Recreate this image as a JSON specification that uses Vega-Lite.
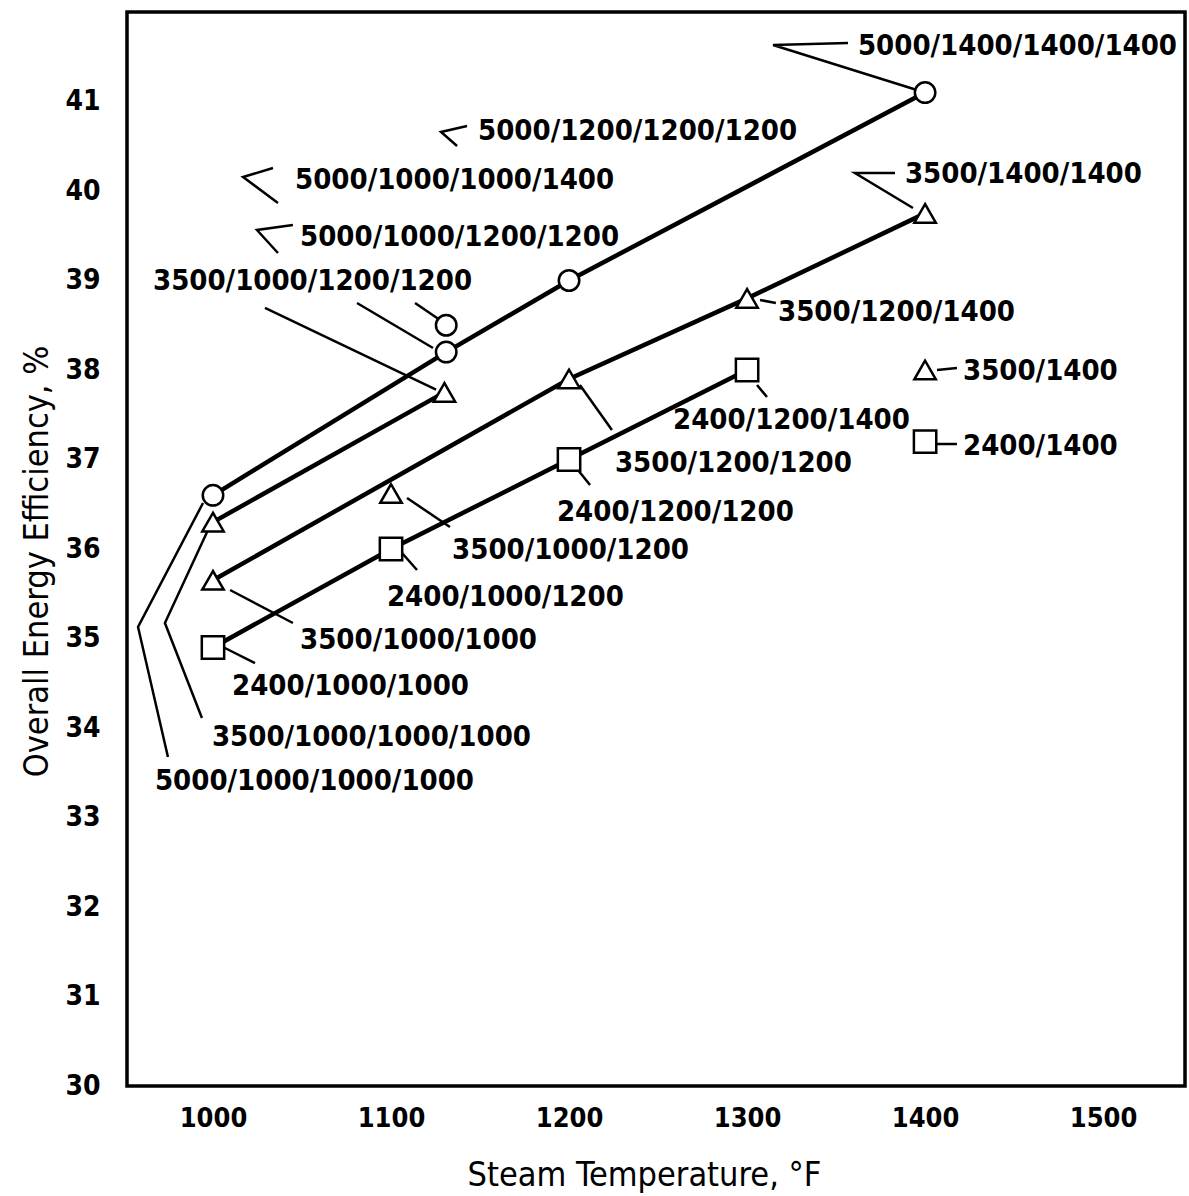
{
  "$schema": "https://vega.github.io/schema/vega-lite/v6.json",
  "autosize": {"type": "none"},
  "padding": {"left": 127, "top": 12, "right": 4, "bottom": 110},
  "width": 1058,
  "height": 1074,
  "background": "white",
  "config": {
    "view": {"stroke": "black", "strokeWidth": 3.5},
    "axis": {"domain": false, "ticks": false, "grid": false, "labelColor": "black", "titleColor": "black"}
  },
  "datasets": {
    "lines": [
      {"s": "c5000", "o": 1, "x": 1000, "y": 36.6},
      {"s": "c5000", "o": 2, "x": 1131, "y": 38.2},
      {"s": "c5000", "o": 3, "x": 1200, "y": 39.0},
      {"s": "c5000", "o": 4, "x": 1400, "y": 41.1},
      {"s": "t3500b", "o": 1, "x": 1000, "y": 36.3},
      {"s": "t3500b", "o": 2, "x": 1130, "y": 37.75},
      {"s": "t3500", "o": 1, "x": 1000, "y": 35.65},
      {"s": "t3500", "o": 2, "x": 1200, "y": 37.9},
      {"s": "t3500", "o": 3, "x": 1300, "y": 38.8},
      {"s": "t3500", "o": 4, "x": 1400, "y": 39.75},
      {"s": "s2400", "o": 1, "x": 1000, "y": 34.9},
      {"s": "s2400", "o": 2, "x": 1100, "y": 36.0},
      {"s": "s2400", "o": 3, "x": 1200, "y": 37.0},
      {"s": "s2400", "o": 4, "x": 1300, "y": 38.0}
    ],
    "leaders": [
      {"id": "A", "o": 1, "x": 1356.7, "y": 41.654},
      {"id": "A", "o": 2, "x": 1314.6, "y": 41.631},
      {"id": "A", "o": 3, "x": 1395.4, "y": 41.128},
      {"id": "B", "o": 1, "x": 1383.1, "y": 40.201},
      {"id": "B", "o": 2, "x": 1360.6, "y": 40.201},
      {"id": "B", "o": 3, "x": 1393.2, "y": 39.81},
      {"id": "C", "o": 1, "x": 1142.7, "y": 40.726},
      {"id": "C", "o": 2, "x": 1128.1, "y": 40.659},
      {"id": "C", "o": 3, "x": 1137.1, "y": 40.503},
      {"id": "D", "o": 1, "x": 1033.7, "y": 40.257},
      {"id": "D", "o": 2, "x": 1016.9, "y": 40.156},
      {"id": "D", "o": 3, "x": 1036.5, "y": 39.866},
      {"id": "E", "o": 1, "x": 1044.9, "y": 39.62},
      {"id": "E", "o": 2, "x": 1024.7, "y": 39.564},
      {"id": "E", "o": 3, "x": 1036.5, "y": 39.307},
      {"id": "F1", "o": 1, "x": 1029.2, "y": 38.693},
      {"id": "F1", "o": 2, "x": 1125.3, "y": 37.78},
      {"id": "F2", "o": 1, "x": 1080.9, "y": 38.749},
      {"id": "F2", "o": 2, "x": 1123.6, "y": 38.246},
      {"id": "F3", "o": 1, "x": 1113.5, "y": 38.749},
      {"id": "F3", "o": 2, "x": 1127.5, "y": 38.559},
      {"id": "G", "o": 1, "x": 1307.3, "y": 38.782},
      {"id": "G", "o": 2, "x": 1316.2, "y": 38.749},
      {"id": "H", "o": 1, "x": 1406.7, "y": 38.0},
      {"id": "H", "o": 2, "x": 1417.9, "y": 38.022},
      {"id": "I", "o": 1, "x": 1406.7, "y": 37.173},
      {"id": "I", "o": 2, "x": 1417.9, "y": 37.173},
      {"id": "J", "o": 1, "x": 1305.6, "y": 37.832},
      {"id": "J", "o": 2, "x": 1311.2, "y": 37.698},
      {"id": "K", "o": 1, "x": 1206.1, "y": 37.832},
      {"id": "K", "o": 2, "x": 1224.1, "y": 37.33},
      {"id": "L", "o": 1, "x": 1205.0, "y": 36.883},
      {"id": "L", "o": 2, "x": 1211.8, "y": 36.715},
      {"id": "M", "o": 1, "x": 1109.0, "y": 36.57},
      {"id": "M", "o": 2, "x": 1133.1, "y": 36.246},
      {"id": "N", "o": 1, "x": 1106.2, "y": 35.955},
      {"id": "N", "o": 2, "x": 1114.6, "y": 35.765},
      {"id": "O", "o": 1, "x": 1009.6, "y": 35.542},
      {"id": "O", "o": 2, "x": 1044.9, "y": 35.173},
      {"id": "P", "o": 1, "x": 1005.6, "y": 34.905},
      {"id": "P", "o": 2, "x": 1023.6, "y": 34.726},
      {"id": "Q", "o": 1, "x": 997.2, "y": 36.212},
      {"id": "Q", "o": 2, "x": 973.0, "y": 35.173},
      {"id": "Q", "o": 3, "x": 993.8, "y": 34.112},
      {"id": "R", "o": 1, "x": 994.4, "y": 36.514},
      {"id": "R", "o": 2, "x": 957.9, "y": 35.128},
      {"id": "R", "o": 3, "x": 974.7, "y": 33.676}
    ],
    "points": [
      {"shape": "circle", "x": 1000, "y": 36.6},
      {"shape": "circle", "x": 1131, "y": 38.2},
      {"shape": "circle", "x": 1131, "y": 38.5},
      {"shape": "circle", "x": 1200, "y": 39.0},
      {"shape": "circle", "x": 1400, "y": 41.1},
      {"shape": "triangle-up", "x": 1000, "y": 36.3},
      {"shape": "triangle-up", "x": 1130, "y": 37.75},
      {"shape": "triangle-up", "x": 1000, "y": 35.65},
      {"shape": "triangle-up", "x": 1100, "y": 36.62},
      {"shape": "triangle-up", "x": 1200, "y": 37.9},
      {"shape": "triangle-up", "x": 1300, "y": 38.8},
      {"shape": "triangle-up", "x": 1400, "y": 39.75},
      {"shape": "triangle-up", "x": 1400, "y": 38.0},
      {"shape": "square", "x": 1000, "y": 34.9},
      {"shape": "square", "x": 1100, "y": 36.0},
      {"shape": "square", "x": 1200, "y": 37.0},
      {"shape": "square", "x": 1300, "y": 38.0},
      {"shape": "square", "x": 1400, "y": 37.2}
    ],
    "labels": [
      {"t": "5000/1400/1400/1400", "x": 1362.3, "y": 41.62},
      {"t": "5000/1200/1200/1200", "x": 1148.9, "y": 40.67},
      {"t": "5000/1000/1000/1400", "x": 1046.1, "y": 40.12},
      {"t": "3500/1400/1400", "x": 1388.7, "y": 40.19},
      {"t": "5000/1000/1200/1200", "x": 1048.9, "y": 39.49},
      {"t": "3500/1000/1200/1200", "x": 966.3, "y": 38.99},
      {"t": "3500/1200/1400", "x": 1317.4, "y": 38.65},
      {"t": "3500/1400", "x": 1421.3, "y": 37.99},
      {"t": "2400/1400", "x": 1421.3, "y": 37.15},
      {"t": "2400/1200/1400", "x": 1258.4, "y": 37.44},
      {"t": "3500/1200/1200", "x": 1225.8, "y": 36.96},
      {"t": "2400/1200/1200", "x": 1193.2, "y": 36.41},
      {"t": "3500/1000/1200", "x": 1134.3, "y": 35.99},
      {"t": "2400/1000/1200", "x": 1097.7, "y": 35.46},
      {"t": "3500/1000/1000", "x": 1048.9, "y": 34.98},
      {"t": "2400/1000/1000", "x": 1010.7, "y": 34.47},
      {"t": "3500/1000/1000/1000", "x": 999.4, "y": 33.9},
      {"t": "5000/1000/1000/1000", "x": 967.4, "y": 33.41}
    ]
  },
  "encoding": {
    "x": {
      "field": "x", "type": "quantitative",
      "scale": {"domain": [951.7, 1546], "nice": false, "zero": false},
      "axis": {
        "values": [1000, 1100, 1200, 1300, 1400, 1500],
        "format": "d",
        "title": "Steam Temperature,  °F",
        "labelFont": "DejaVu Sans Condensed", "labelFontSize": 27, "labelFontWeight": "bold",
        "labelPadding": 19, "labelFlush": false,
        "titleFont": "DejaVu Sans Condensed", "titleFontSize": 34, "titleFontWeight": "normal",
        "titleX": 517, "titleY": 99, "titleAlign": "center", "titleBaseline": "alphabetic"
      }
    },
    "y": {
      "field": "y", "type": "quantitative",
      "scale": {"domain": [30, 42], "nice": false, "zero": false},
      "axis": {
        "values": [30, 31, 32, 33, 34, 35, 36, 37, 38, 39, 40, 41],
        "title": "Overall Energy Efficiency, %",
        "labelFont": "DejaVu Sans Condensed", "labelFontSize": 28, "labelFontWeight": "bold",
        "labelPadding": 27, "labelFlush": false,
        "titleFont": "DejaVu Sans Condensed", "titleFontSize": 34, "titleFontWeight": "normal",
        "titleX": -80, "titleY": 549, "titleAngle": -90, "titleAlign": "center", "titleBaseline": "alphabetic"
      }
    }
  },
  "layer": [
    {
      "data": {"name": "lines"},
      "mark": {"type": "line", "color": "black", "strokeWidth": 4.5},
      "encoding": {"detail": {"field": "s"}, "order": {"field": "o", "type": "quantitative"}}
    },
    {
      "data": {"name": "leaders"},
      "mark": {"type": "line", "color": "black", "strokeWidth": 2.5},
      "encoding": {"detail": {"field": "id"}, "order": {"field": "o", "type": "quantitative"}}
    },
    {
      "data": {"name": "points"},
      "mark": {"type": "point", "filled": true, "fill": "white", "stroke": "black", "strokeWidth": 2.5, "opacity": 1},
      "encoding": {
        "shape": {"field": "shape", "type": "nominal", "scale": {"domain": ["circle", "triangle-up", "square"], "range": ["circle", "triangle-up", "square"]}, "legend": null},
        "size": {"field": "shape", "type": "ordinal", "scale": {"domain": ["circle", "triangle-up", "square"], "range": [420, 500, 330]}, "legend": null}
      }
    },
    {
      "data": {"name": "labels"},
      "mark": {"type": "text", "align": "left", "baseline": "middle", "font": "DejaVu Sans Condensed", "fontSize": 29, "fontWeight": "bold", "color": "black"},
      "encoding": {"text": {"field": "t"}}
    }
  ]
}
